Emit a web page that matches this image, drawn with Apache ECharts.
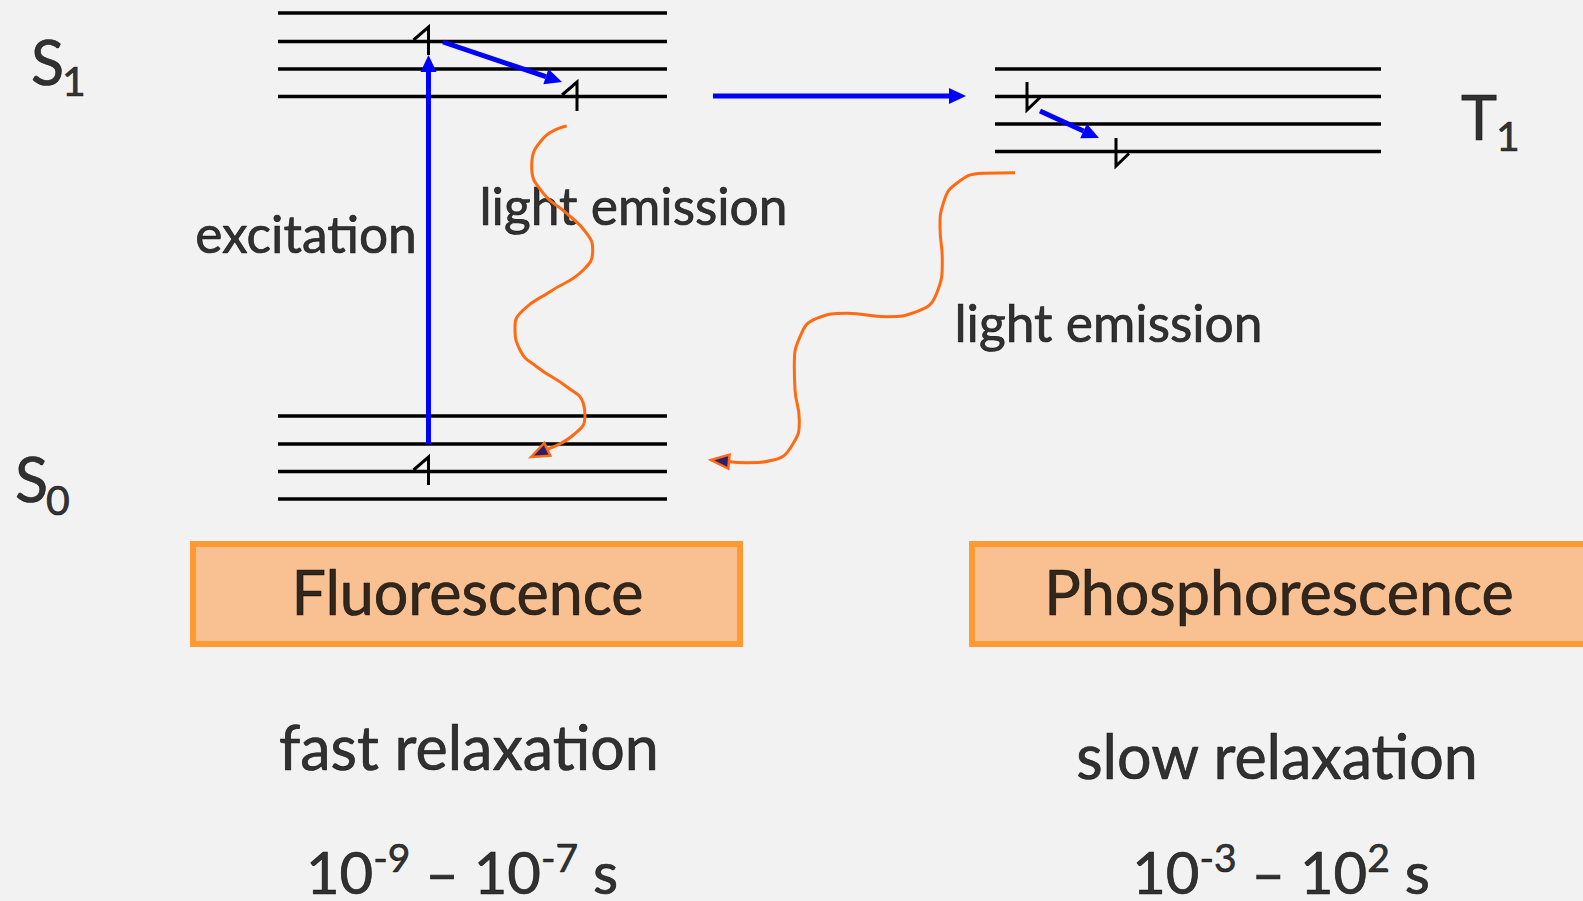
<!DOCTYPE html>
<html>
<head>
<meta charset="utf-8">
<script src="https://cdn.jsdelivr.net/npm/echarts@6/dist/echarts.min.js"></script>
<style>
html, body { margin: 0; padding: 0; background: #f2f2f2; }
#main { width: 1583px; height: 901px; }
</style>
</head>
<body>
<div id="main"></div>
<script>
// energy levels (y in px), and their horizontal span
var s1Levels = [13, 41.5, 69, 96.5];
var s0Levels = [416, 444, 471.5, 499];
var t1Levels = [69, 96.5, 124, 151.5];
var singletSpan = [278, 667];
var tripletSpan = [995, 1381];

// electron spins: [x, top y, bottom y]
var spinUp = [[428.5, 27, 55], [577, 82, 111], [428.5, 457, 485]];
var spinDown = [[1027, 82, 110], [1116, 138, 166]];

// blue transitions: [x1, y1, x2, y2]
var blueArrows = [
  [428.5, 444, 428.5, 55],
  [443, 42, 562, 82],
  [713, 96, 966, 96],
  [1040, 111, 1099, 138]
];

// wavy emission paths (ending at the arrow head base)
var fluorWave = [[566.7, 126], [543.3, 138.3], [531.7, 166.7], [543.3, 193.3], [566.7, 213.3],
  [586.7, 233.3], [592.7, 250], [583.3, 270], [550, 291.7], [523.3, 310], [515, 326.7],
  [520, 350], [536.7, 366.7], [566.7, 386.7], [583.3, 403.3], [585, 416.7], [573.3, 435], [548, 449]];
var phosWave = [[1015, 172.7], [983.3, 173.3], [956.7, 183.3], [943.3, 203.3], [940, 226.7],
  [942.3, 260], [936.7, 293.3], [916.7, 311.7], [886.7, 316.7], [846.7, 313.3], [816.7, 318.3],
  [800, 336.7], [794.3, 366.7], [795, 390], [799.3, 420], [793.3, 443.3], [773.3, 460],
  [746.7, 462.7], [728, 461.5]];
// arrow heads of the waves: [from x, from y, tip x, tip y]
var waveHeads = [[548, 449, 531, 457], [728, 461.5, 711, 460]];

// boxes: [x0, y0, x1, y1]
var boxes = [[193, 544, 740, 644], [972, 544, 1600, 644]];

// texts: [text, centre x, baseline y, size]
var plainTexts = [
  ['excitation', 306, 253, 51.5],
  ['light emission', 633.5, 225, 51.5],
  ['light emission', 1108.5, 342, 51.5],
  ['Fluorescence', 467.5, 615, 61],
  ['Phosphorescence', 1279, 615, 61],
  ['fast relaxation', 469, 770, 61],
  ['slow relaxation', 1277, 779, 61]
];
// state names: [text, left x, baseline y, size]
var stateNames = [
  ['S', 31, 85, 61], ['1', 62, 96.5, 41],
  ['S', 15, 502, 61], ['0', 46, 515, 41],
  ['T', 1461, 140, 61], ['1', 1496, 151.5, 41]
];
// lifetimes: [mantissa1, exp1, mantissa2, exp2, centre x, baseline y]
var lifetimes = [['10', '-9', '10', '-7', 462, 894], ['10', '-3', '10', '2', 1281, 894]];

var FONT = 'Lato';
var K = 0.387; // centre -> baseline ratio

var chart = echarts.init(document.getElementById('main'), null, { renderer: 'svg' });

function headPoints(p1, p2, len, half) {
  var dx = p2[0] - p1[0], dy = p2[1] - p1[1];
  var d = Math.sqrt(dx * dx + dy * dy);
  var ux = dx / d, uy = dy / d;
  var bx = p2[0] - ux * len, by = p2[1] - uy * len;
  return {
    base: [bx, by],
    pts: [[p2[0], p2[1]], [bx - uy * half, by + ux * half], [bx + uy * half, by - ux * half]]
  };
}

var levelData = [];
s1Levels.forEach(function (y) { levelData.push([singletSpan[0], singletSpan[1], y]); });
s0Levels.forEach(function (y) { levelData.push([singletSpan[0], singletSpan[1], y]); });
t1Levels.forEach(function (y) { levelData.push([tripletSpan[0], tripletSpan[1], y]); });

var spinData = [];
spinUp.forEach(function (s) { spinData.push([s[0], s[1], s[2], 1]); });
spinDown.forEach(function (s) { spinData.push([s[0], s[1], s[2], -1]); });

var textData = [];
plainTexts.forEach(function (t) {
  textData.push({
    value: [t[1], t[2]],
    label: { formatter: t[0], fontSize: t[3], align: 'center', offset: [0, -K * t[3]] }
  });
});
stateNames.forEach(function (t) {
  textData.push({
    value: [t[1], t[2]],
    label: { formatter: t[0], fontSize: t[3], align: 'left', offset: [0, -K * t[3]] }
  });
});
lifetimes.forEach(function (t) {
  textData.push({
    value: [t[4], t[5]],
    label: {
      formatter: '{b|' + t[0] + '}{sup|' + t[1] + '}{b| – ' + t[2] + '}{sup|' + t[3] + '}{b| s}',
      align: 'center',
      offset: [0, -K * 58]
    }
  });
});

var textInk = { color: '#000', textBorderColor: '#000', textBorderWidth: 0.7, fontFamily: FONT };

var option = {
  backgroundColor: '#f2f2f2',
  animation: false,
  grid: { left: 0, right: 0, top: 0, bottom: 0 },
  xAxis: { type: 'value', min: 0, max: 1583, show: false },
  yAxis: { type: 'value', min: 0, max: 901, inverse: true, show: false },
  series: [
    {
      // orange boxes
      type: 'custom',
      z: 1,
      data: boxes,
      renderItem: function (params, api) {
        var a = api.coord([api.value(0), api.value(1)]);
        var b = api.coord([api.value(2), api.value(3)]);
        return {
          type: 'rect',
          shape: { x: a[0], y: a[1], width: b[0] - a[0], height: b[1] - a[1] },
          style: { fill: '#f9c191', stroke: '#ff9933', lineWidth: 6 }
        };
      }
    },
    {
      // energy levels
      type: 'custom',
      z: 2,
      data: levelData,
      renderItem: function (params, api) {
        var a = api.coord([api.value(0), api.value(2)]);
        var b = api.coord([api.value(1), api.value(2)]);
        return {
          type: 'line',
          shape: { x1: a[0], y1: a[1], x2: b[0], y2: b[1] },
          style: { stroke: '#000', lineWidth: 3.3 }
        };
      }
    },
    {
      // spins (half arrows)
      type: 'custom',
      z: 3,
      data: spinData,
      renderItem: function (params, api) {
        var x = api.value(0), top = api.value(1), bot = api.value(2), dir = api.value(3);
        var a = api.coord([x, top]);
        var b = api.coord([x, bot]);
        var pts;
        if (dir > 0) {
          pts = [api.coord([x - 15, top + 13]), a, b];
        } else {
          pts = [a, b, api.coord([x + 13, bot - 12.5])];
        }
        return {
          type: 'polyline',
          shape: { points: pts },
          style: { stroke: '#000', lineWidth: 3, fill: null, lineJoin: 'miter' }
        };
      }
    },
    {
      // texts
      type: 'scatter',
      z: 4,
      symbolSize: 0,
      silent: true,
      data: textData,
      label: Object.assign({
        show: true,
        position: 'inside',
        verticalAlign: 'middle',
        rich: {
          b: Object.assign({ fontSize: 58, lineHeight: 68 }, textInk),
          sup: Object.assign({ fontSize: 39, verticalAlign: 'top' }, textInk)
        }
      }, textInk)
    },
    {
      // blue arrows
      type: 'custom',
      z: 5,
      data: blueArrows,
      renderItem: function (params, api) {
        var p1 = api.coord([api.value(0), api.value(1)]);
        var p2 = api.coord([api.value(2), api.value(3)]);
        var h = headPoints(p1, p2, 17, 8);
        return {
          type: 'group',
          children: [
            { type: 'line', shape: { x1: p1[0], y1: p1[1], x2: h.base[0], y2: h.base[1] },
              style: { stroke: '#0000ff', lineWidth: 5 } },
            { type: 'polygon', shape: { points: h.pts }, style: { fill: '#0000ff' } }
          ]
        };
      }
    },
    {
      name: 'fluorescence',
      type: 'line',
      z: 6,
      data: fluorWave,
      smooth: true,
      symbol: 'none',
      lineStyle: { color: '#ff6a13', width: 3 }
    },
    {
      name: 'phosphorescence',
      type: 'line',
      z: 6,
      data: phosWave,
      smooth: true,
      symbol: 'none',
      lineStyle: { color: '#ff6a13', width: 3 }
    },
    {
      // wave arrow heads
      type: 'custom',
      z: 7,
      data: waveHeads,
      renderItem: function (params, api) {
        var p1 = api.coord([api.value(0), api.value(1)]);
        var p2 = api.coord([api.value(2), api.value(3)]);
        var h = headPoints(p1, p2, 18, 7);
        return {
          type: 'polygon',
          shape: { points: h.pts },
          style: { fill: '#2e1f6e', stroke: '#ff6a13', lineWidth: 2.5, lineJoin: 'miter' }
        };
      }
    }
  ]
};

chart.setOption(option);
</script>
</body>
</html>
